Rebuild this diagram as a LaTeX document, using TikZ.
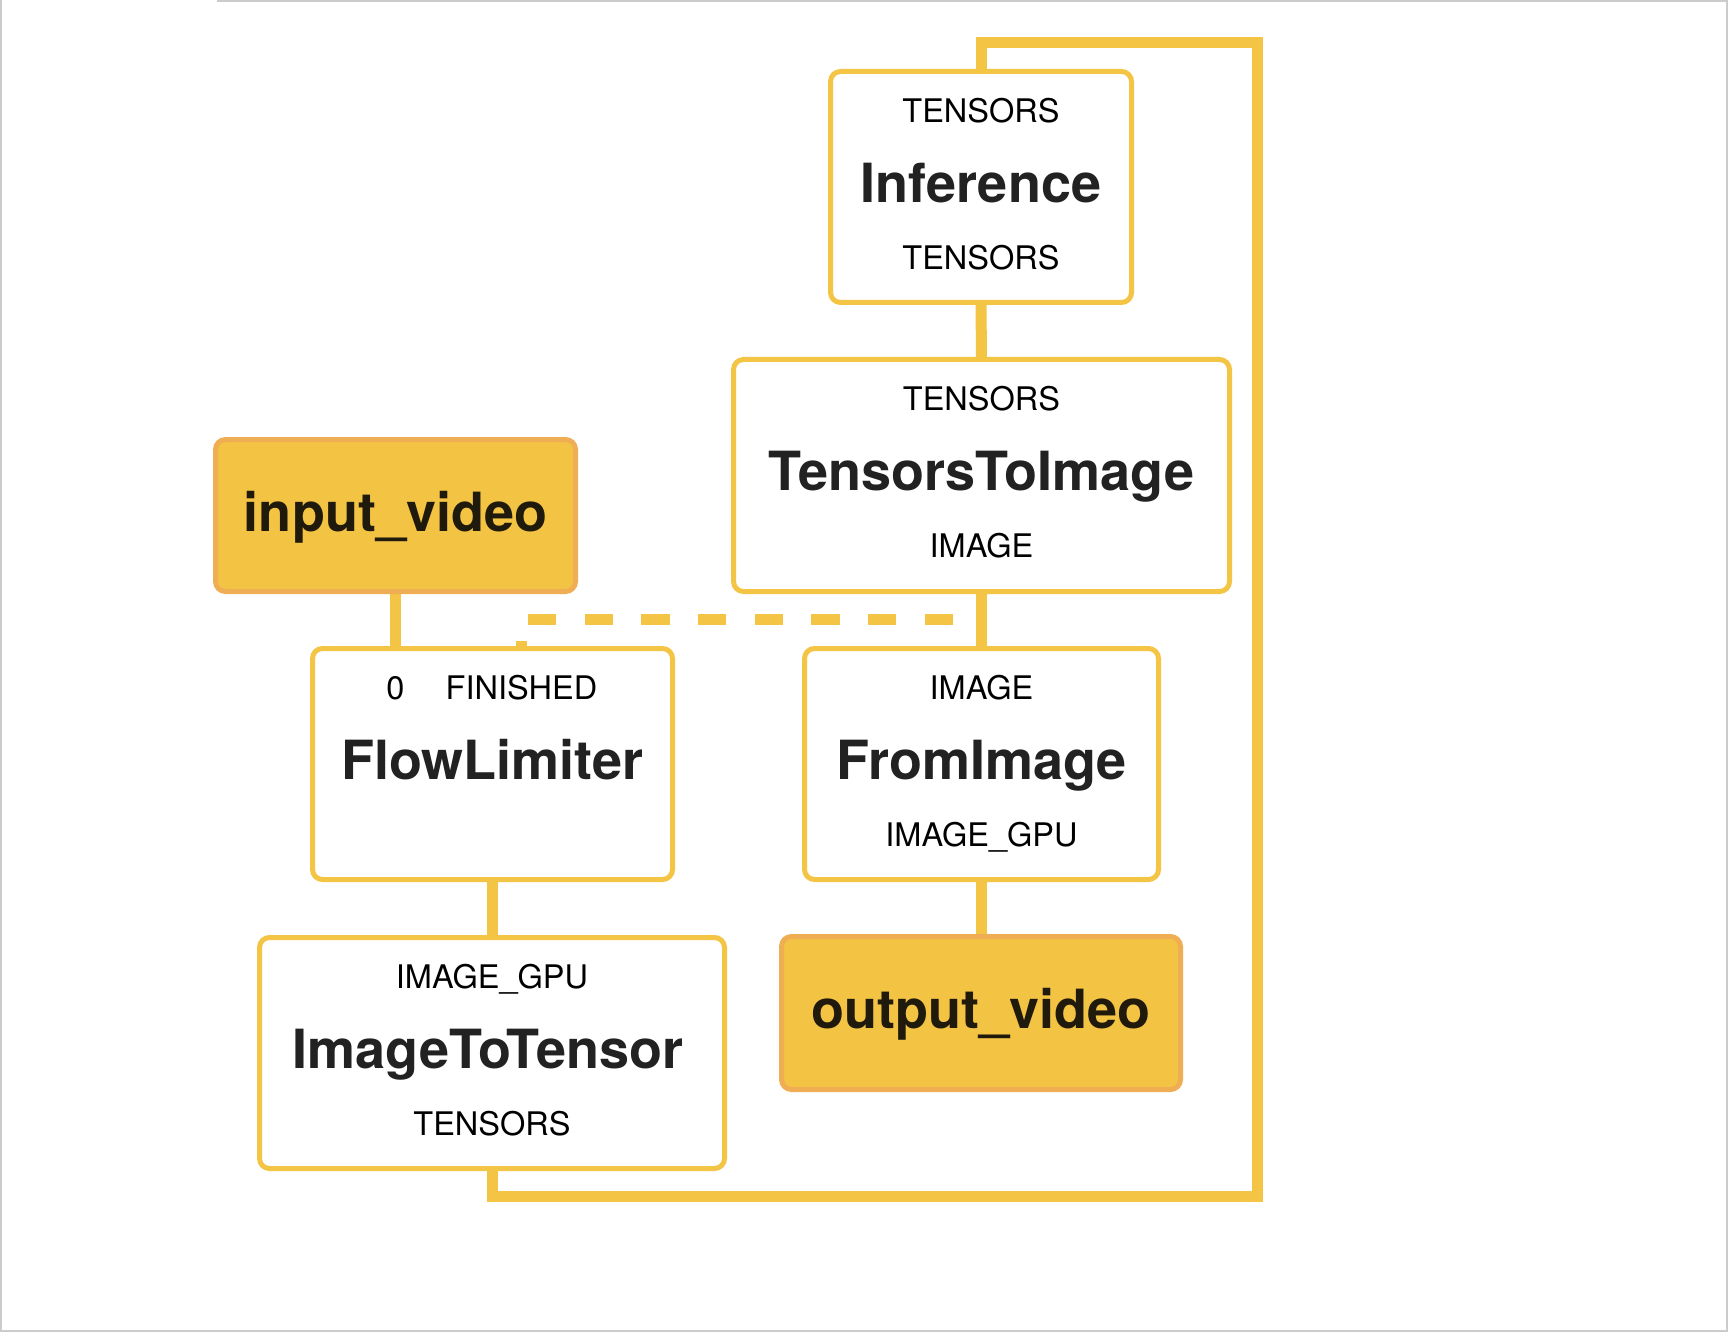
\documentclass[tikz,border=0pt]{standalone}
\usepackage{fontspec}
\setmainfont{TeX Gyre Heros}
\usetikzlibrary{calc,backgrounds}
\definecolor{lineY}{HTML}{F4C445}
\definecolor{fillY}{HTML}{F3C344}
\definecolor{edgeO}{HTML}{F0AE54}
\definecolor{frameG}{HTML}{CCCCCC}
\definecolor{darkT}{HTML}{1F1A0B}
\definecolor{titleT}{HTML}{222222}
\tikzset{
  calcbox/.style={draw=lineY, line width=5pt, fill=white, rounded corners=10pt, inner sep=0pt, outer sep=0pt},
  streambox/.style={draw=edgeO, fill=fillY, line width=5pt, rounded corners=10pt, inner sep=0pt, outer sep=0pt},
  portlbl/.style={anchor=base, inner sep=0pt, font=\fontsize{32.5}{39}\selectfont, text=black},
  titlelbl/.style={anchor=base, inner sep=0pt, font=\fontsize{54}{64}\selectfont\bfseries, text=titleT},
  streamlbl/.style={anchor=base, inner sep=0pt, font=\fontsize{54}{64}\selectfont\bfseries, text=darkT},
  conn/.style={draw=lineY, line width=11pt},
}
\begin{document}
\begin{tikzpicture}[x=1pt, y=-1pt]
\useasboundingbox (0,0) rectangle (1730,1332);
\begin{scope}[on background layer]
  \fill[white] (0,0) rectangle (1730,1332);
  \draw[frameG, line width=2pt] (1,0) -- (1,1331) -- (1727,1331) -- (1727,1) -- (217,1);
\end{scope}

% boxes
\node[calcbox, minimum width=301pt, minimum height=231pt] (inf) at (981,187) {};
\node[calcbox, minimum width=496pt, minimum height=232pt] (t2i) at (981.5,475.5) {};
\node[calcbox, minimum width=354pt, minimum height=231pt] (fi) at (981.5,764) {};
\node[calcbox, minimum width=360pt, minimum height=231pt] (fl) at (492.5,764) {};
\node[calcbox, minimum width=465pt, minimum height=231pt] (i2t) at (492,1053) {};
\node[streambox, minimum width=360pt, minimum height=152pt] (in) at (395.5,515.5) {};
\node[streambox, minimum width=399pt, minimum height=153pt] (out) at (981,1013) {};

% connectors behind boxes
\coordinate (loopBL) at (492,1196.5);
\coordinate (loopBR) at (1257.5,1196.5);
\coordinate (loopTR) at (1257.5,43);
\coordinate (loopTL) at (981,43);
\coordinate (finport) at (521.5,669.7);
\coordinate (dashend) at (981.5,619.5);
\begin{scope}[on background layer]
  \draw[conn] (in.south) -- (in.south |- fl.north);
  \draw[conn] (fl.south) -- (fl.south |- i2t.north);
  \draw[conn] (inf.south) -- (t2i.north);
  \draw[conn] (t2i.south) -- (fi.north);
  \draw[conn] (fi.south) -- (fi.south |- out.north);
  \draw[conn] (i2t.south) -- (loopBL) -- (loopBR) -- (loopTR) -- (loopTL) -- (inf.north);
  \draw[conn, dash pattern=on 28.33pt off 28.33pt] (finport) |- (dashend);
\end{scope}

% Inference
\node[portlbl] (infin) at ($(inf.north)+(0,51)$) {TENSORS};
\node[titlelbl] (inft) at ($(inf.north)+(0,131)$) {Inference};
\node[portlbl] (infout) at ($(inf.north)+(0,198)$) {TENSORS};
% TensorsToImage
\node[portlbl] (t2iin) at ($(t2i.north)+(0,51)$) {TENSORS};
\node[titlelbl] (t2it) at ($(t2i.north)+(0,131)$) {TensorsToImage};
\node[portlbl] (t2iout) at ($(t2i.north)+(0,198)$) {IMAGE};
% FromImage
\node[portlbl] (fiin) at ($(fi.north)+(0,51)$) {IMAGE};
\node[titlelbl] (fit) at ($(fi.north)+(0,131)$) {FromImage};
\node[portlbl] (fiout) at ($(fi.north)+(0,198)$) {IMAGE\_GPU};
% FlowLimiter
\node[portlbl] (flin0) at ($(fl.north)+(-97,51)$) {0};
\node[portlbl] (flfin) at ($(fl.north)+(29,51)$) {FINISHED};
\node[titlelbl] (flt) at ($(fl.north)+(0,131)$) {FlowLimiter};
% ImageToTensor
\node[portlbl] (i2tin) at ($(i2t.north)+(0,51)$) {IMAGE\_GPU};
\node[titlelbl] (i2tt) at ($(i2t.north)+(-4,131)$) {ImageToTensor};
\node[portlbl] (i2tout) at ($(i2t.north)+(0,198)$) {TENSORS};
% streams
\node[streamlbl] (inlbl) at ($(in.north)+(0,91.5)$) {input\_video};
\node[streamlbl] (outlbl) at ($(out.north)+(0,91.5)$) {output\_video};
\end{tikzpicture}
\end{document}
